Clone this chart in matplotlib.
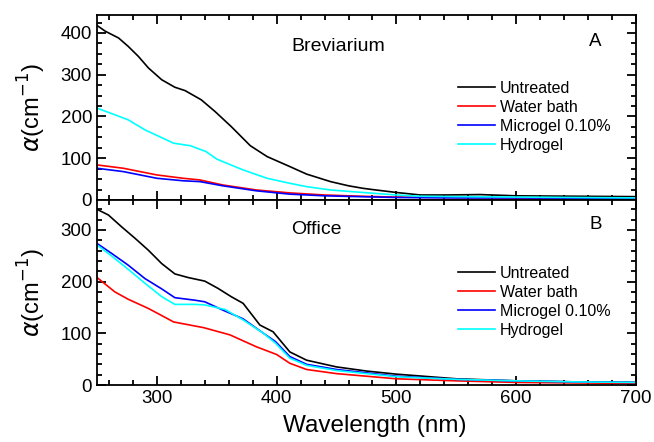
import matplotlib
matplotlib.use("Agg")
import matplotlib.pyplot as plt
from matplotlib.ticker import MultipleLocator

plt.rcParams['font.family'] = ['Liberation Sans', 'DejaVu Sans']

# ---- Data: Breviarium (panel A) ----
wl_a_untreated = [250, 257, 268, 276, 284.5, 293, 304, 315, 323.5, 337, 348.5, 362, 378, 392, 411, 425, 445, 460, 472, 480, 500, 520, 540, 570, 600, 650, 700]
a_untreated = [418, 404, 388, 368, 344, 316, 288, 270, 262, 240, 212, 176, 130, 104, 80, 62, 44, 34, 28, 25, 18, 12, 12, 13, 10, 9, 8]
wl_a_hydrogel = [250, 265, 276, 290, 314, 328, 341, 350, 355, 372, 392, 411, 425, 445, 472, 500, 520, 550, 600, 650, 700]
a_hydrogel = [220, 204, 192, 168, 136, 130, 116, 98, 92, 72, 52, 40, 32, 24, 18, 12, 9, 8, 7, 6, 5]
wl_a_other = [250, 272, 300, 322, 336, 355, 383, 411, 440, 470, 500, 550, 600, 700]
a_water = [84, 76, 60, 52, 48, 36, 24, 17, 12, 9, 7, 6, 5, 4]
a_microgel = [76, 68, 52, 46, 44, 34, 22, 14, 10, 8, 6, 5, 5, 4]

# ---- Data: Office (panel B) ----
wl_b_untreated = [250, 259.5, 270.6, 281.7, 292.8, 304, 315, 326, 340, 351, 362, 372, 386, 397, 411, 425, 450, 475, 500, 550, 600, 650, 700]
b_untreated = [340, 329, 306, 284, 261, 235, 215, 208, 201, 187, 171, 158, 116, 103, 64, 48, 35, 27, 21, 12, 8, 6, 5]
wl_b_microgel = [250, 262, 276, 290, 304, 315, 332, 340, 355, 372, 389, 399, 411, 425, 450, 500, 550, 600, 650, 700]
b_microgel = [274, 255, 232, 206, 186, 169, 164, 161, 145, 128, 100, 84, 55, 40, 30, 17, 11, 8, 6, 5]
wl_b_hydrogel = [250, 262, 276, 290, 304, 315, 332, 340, 357, 372, 389, 399, 411, 425, 450, 500, 550, 600, 650, 700]
b_hydrogel = [271, 250, 224, 197, 171, 156, 156, 155, 146, 126, 100, 81, 52, 38, 28, 16, 11, 8, 6, 5]
wl_b_water = [250, 265, 276, 293, 314, 339, 361, 383, 400, 411, 425, 450, 500, 550, 600, 650, 700]
b_water = [208, 180, 166, 148, 122, 111, 97, 74, 59, 42, 30, 22, 12, 8, 5, 4, 3]

labels = ["Untreated", "Water bath", "Microgel 0.10%", "Hydrogel"]
colors = ["#000000", "#FF0000", "#0000FF", "#00FFFF"]

fig = plt.figure(figsize=(6.54, 4.42), dpi=100)
L, R = 97/654, 636/654
axA = fig.add_axes([L, 1-200/442, R-L, (200-15)/442])
axB = fig.add_axes([L, 1-385/442, R-L, (385-200)/442])

lw = 1.2
axA.plot(wl_a_untreated, a_untreated, color=colors[0], lw=lw, label=labels[0])
axA.plot(wl_a_other, a_water, color=colors[1], lw=lw, label=labels[1])
axA.plot(wl_a_other, a_microgel, color=colors[2], lw=lw, label=labels[2])
axA.plot(wl_a_hydrogel, a_hydrogel, color=colors[3], lw=lw, label=labels[3])

axB.plot(wl_b_untreated, b_untreated, color=colors[0], lw=lw, label=labels[0])
axB.plot(wl_b_water, b_water, color=colors[1], lw=lw, label=labels[1])
axB.plot(wl_b_microgel, b_microgel, color=colors[2], lw=lw, label=labels[2])
axB.plot(wl_b_hydrogel, b_hydrogel, color=colors[3], lw=lw, label=labels[3])

axA.set_ylim(0, 443)
axB.set_ylim(0, 358)
for ax in (axA, axB):
    ax.set_xlim(250, 700)
    ax.xaxis.set_major_locator(MultipleLocator(100))
    ax.xaxis.set_minor_locator(MultipleLocator(20))
    ax.yaxis.set_major_locator(MultipleLocator(100))
    ax.tick_params(which='both', direction='in', top=True, right=True, labelsize=13.5, width=1.3)
    ax.tick_params(which='major', length=6.5)
    ax.tick_params(which='minor', length=3.3)
    for s in ax.spines.values():
        s.set_linewidth(1.3)
    ax.set_ylabel(r"$\alpha$(cm$^{-1}$)", fontsize=17, labelpad=9)
    ax.legend(loc='upper left', bbox_to_anchor=(0.67, 0.643), frameon=False,
              fontsize=11.5, handlelength=2.3, handletextpad=0.3, labelspacing=0.25,
              borderpad=0, borderaxespad=0)
axA.yaxis.set_minor_locator(MultipleLocator(25))
axB.yaxis.set_minor_locator(MultipleLocator(20))
axA.tick_params(labelbottom=False)
axB.set_xlabel("Wavelength (nm)", fontsize=17.5, labelpad=6)
axB.xaxis.label.set_x(0.515)

axA.text(0.36, 0.83, "Breviarium", transform=axA.transAxes, fontsize=14, ha='left', va='center')
axA.text(0.925, 0.855, "A", transform=axA.transAxes, fontsize=13.5, ha='center', va='center')
axB.text(0.36, 0.84, "Office", transform=axB.transAxes, fontsize=14, ha='left', va='center')
axB.text(0.925, 0.865, "B", transform=axB.transAxes, fontsize=13.5, ha='center', va='center')

fig.savefig("out.png", dpi=100)
